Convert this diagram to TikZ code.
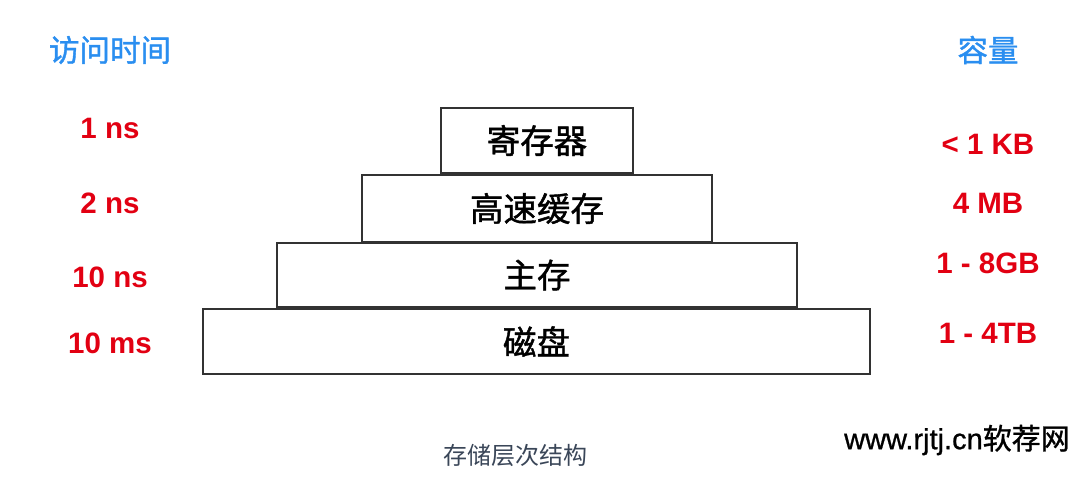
\documentclass[tikz,border=0pt]{standalone}
\usepackage{fontspec}
\setmainfont{Liberation Sans}
\newfontfamily\cjk{Noto Sans CJK SC}
\newfontfamily\cjkmed[FakeBold=1.2]{Noto Sans CJK SC}
\newfontfamily\wmlatin[FakeBold=0.8]{Liberation Sans}
\definecolor{hdblue}{RGB}{42,142,240}
\definecolor{valred}{RGB}{226,0,18}
\definecolor{boxline}{RGB}{50,50,50}
\definecolor{capgray}{RGB}{58,70,88}
\begin{document}
\begin{tikzpicture}[x=1pt,y=-1pt,
  level/.style={draw=boxline,line width=1.4pt,fill=white,inner sep=0pt,
    font=\cjkmed\fontsize{33.5}{33.5}\selectfont,text=black},
  head/.style={font=\cjkmed\fontsize{30.5}{30.5}\selectfont,text=hdblue,inner sep=0pt},
  val/.style={font=\bfseries\fontsize{29.5}{29.5}\selectfont,text=valred,inner sep=0pt},
  captext/.style={font=\cjk\fontsize{24}{24}\selectfont,text=capgray,inner sep=0pt},
  wmtext/.style={inner sep=0pt}]
\useasboundingbox (0,0) rectangle (1080,487);
% pyramid levels
\node[level,minimum width=667pt,minimum height=65pt] (disk) at (536.5,341.5) {磁盘};
\node[level,minimum width=520pt,minimum height=64pt] (mem) at (537,275) {主存};
\node[level,minimum width=350pt,minimum height=67pt] (cache) at (537,208.5) {高速缓存};
\node[level,minimum width=192pt,minimum height=65pt] (reg) at (537,140.5) {寄存器};
% headings
\node[head] (thead) at (110,50) {访问时间};
\node[head] (chead) at (988,50) {容量};
% access times
\node[val] (t1) at (110,128) {1 ns};
\node[val] (t2) at (110,203) {2 ns};
\node[val] (t3) at (110,277) {10 ns};
\node[val] (t4) at (110,343) {10 ms};
% capacities
\node[val] (c1) at (988,144) {< 1 KB};
\node[val] (c2) at (988,203) {4 MB};
\node[val] (c3) at (988,263) {1 - 8GB};
\node[val] (c4) at (988,333) {1 - 4TB};
% caption
\node[captext] (caption) at (515,455) {存储层次结构};
% watermark
\node[wmtext,anchor=west] (wm) at (844,440) {\fontsize{29}{29}\selectfont\wmlatin www.rjtj.cn{\cjkmed 软荐网}};
\end{tikzpicture}
\end{document}
